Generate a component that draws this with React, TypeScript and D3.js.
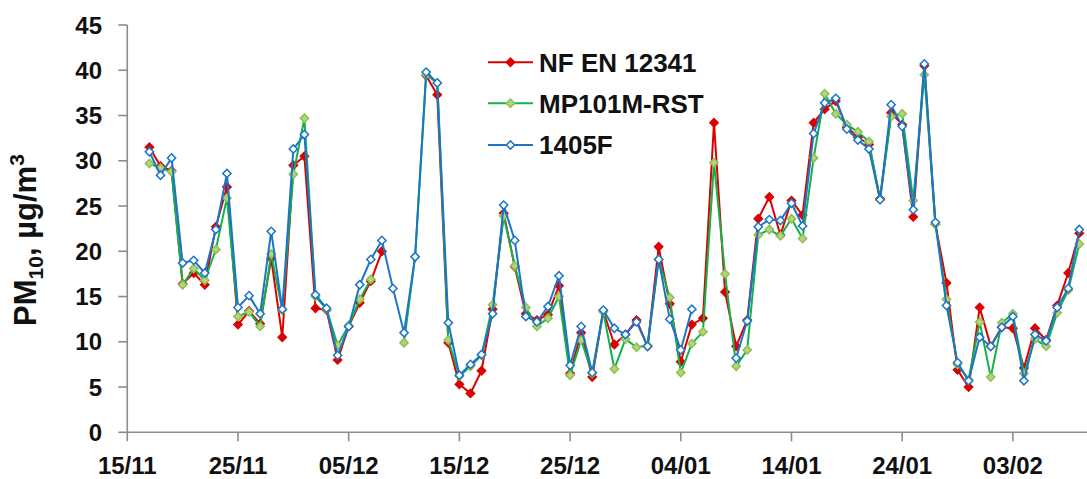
import { useEffect, useRef } from 'react';
import * as d3 from 'd3';

// daily PM10 values, 17/11/2012 .. 09/02/2013 (null = no measurement)
const firstDay = '17/11/2012';
const tickLabels = ['15/11', '25/11', '05/12', '15/12', '25/12', '04/01', '14/01', '24/01', '03/02'];
const yTicks = [0, 5, 10, 15, 20, 25, 30, 35, 40, 45];
const seriesNames = ['NF EN 12341', 'MP101M-RST', '1405F'];

const nfEn12341 = [
  31.5, 29.4, 28.9, 16.4, 17.6, 16.3, 22.7, 27.1, 11.9, 13.4,
  12.0, 19.2, 10.5, 29.5, 30.5, 13.7, 13.5, 8.0, 11.7, 14.3,
  16.7, 20.0, null, null, null, 39.4, 37.3, 9.9, 5.3, 4.3,
  6.8, 13.6, 24.2, 18.3, 13.1, 12.4, 13.0, 16.2, 6.5, 11.0,
  6.1, 13.4, 9.7, 10.8, 12.4, 9.5, 20.5, 14.2, 7.8, 11.9,
  12.6, 34.2, 15.5, 9.5, 12.4, 23.6, 26.0, 21.8, 25.6, 24.0,
  34.2, 35.7, 36.6, 33.7, 32.6, 31.8, 25.8, 35.3, 34.0, 23.8,
  40.5, 23.0, 16.5, 6.9, 5.0, 13.8, 9.5, 11.6, 11.5, 7.1,
  11.5, 10.2, 14.0, 17.6, 22.0,
];
const mp101mRst = [
  29.7, 29.2, 28.8, 16.3, 18.1, 16.8, 20.2, 25.9, 12.8, 13.3,
  11.7, 19.7, 13.5, 28.5, 34.7, 15.0, 13.6, 9.6, 11.8, 14.7,
  16.9, null, null, 9.9, 19.4, 39.5, 38.6, 10.2, 6.2, 7.3,
  8.5, 14.1, 23.9, 18.4, 13.8, 11.7, 12.6, 15.0, 6.3, 10.2,
  6.5, 13.3, 7.0, 10.3, 9.4, 9.6, 19.1, 14.9, 6.6, 9.8,
  11.1, 29.8, 17.5, 7.3, 9.1, 21.8, 22.4, 21.7, 23.6, 21.4,
  30.3, 37.4, 35.2, 34.0, 33.2, 32.1, 25.7, 34.9, 35.2, 25.6,
  39.5, 23.0, 14.7, 7.5, 5.8, 12.2, 6.1, 12.1, 13.1, 6.5,
  10.3, 9.5, 13.2, 15.7, 20.8,
];
const f1405 = [
  31.0, 28.4, 30.3, 18.7, 19.0, 17.6, 22.4, 28.6, 13.8, 15.1,
  13.1, 22.2, 13.6, 31.3, 32.9, 15.2, 13.7, 8.5, 11.7, 16.3,
  19.1, 21.2, 15.9, 11.0, 19.4, 39.8, 38.6, 12.1, 6.3, 7.5,
  8.6, 13.1, 25.1, 21.2, 12.8, 12.2, 13.9, 17.3, 7.4, 11.7,
  6.6, 13.5, 11.5, 10.8, 12.2, 9.5, 19.1, 12.5, 9.1, 13.6,
  null, null, null, 8.2, 12.3, 22.7, 23.5, 23.4, 25.3, 22.8,
  33.0, 36.4, 36.9, 33.5, 32.3, 31.3, 25.7, 36.2, 33.8, 24.6,
  40.7, 23.2, 14.0, 7.7, 5.7, 10.5, 9.5, 11.6, 12.8, 5.7,
  10.8, 10.1, 13.8, 15.9, 22.4,
];

const styles = [
  { line: '#DC0000', fill: '#DC0000', stroke: '#DC0000' },
  { line: '#12B24A', fill: '#B4D57E', stroke: '#8FBF52' },
  { line: '#1B75C8', fill: '#ffffff', stroke: '#1B75C8' },
];

export default function App() {
  const svgRef = useRef(null);

  useEffect(() => {
    const width = 1087;
    const height = 479;
    const svg = d3.select(svgRef.current);
    svg.attr('width', width).attr('height', height).attr('viewBox', `0 0 ${width} ${height}`);
    svg.selectAll('*').remove();

    const font = '"Liberation Sans", Arial, sans-serif';
    const axisColor = '#8c8c8c';
    const parse = d3.utcParse('%d/%m/%Y');
    const start = parse(firstDay);
    const dates = nfEn12341.map((_, i) => d3.utcDay.offset(start, i));
    const tickDates = tickLabels.map((t) => parse(`${t}/${+t.slice(3) >= 11 ? 2012 : 2013}`));

    const x = d3
      .scaleUtc()
      .domain([tickDates[0], dates[dates.length - 1]])
      .range([127.3, 1079.3]);
    const y = d3.scaleLinear().domain([0, 45]).range([432.3, 25]);

    // y axis
    const gy = svg.append('g');
    gy.append('line')
      .attr('x1', x.range()[0]).attr('x2', x.range()[0])
      .attr('y1', y(45)).attr('y2', y(0))
      .attr('stroke', axisColor).attr('stroke-width', 1.6);
    yTicks.forEach((t) => {
      gy.append('line')
        .attr('x1', x.range()[0] - 9).attr('x2', x.range()[0])
        .attr('y1', y(t)).attr('y2', y(t))
        .attr('stroke', axisColor).attr('stroke-width', 1.6);
      gy.append('text')
        .attr('x', 102).attr('y', y(t)).attr('dy', '0.36em')
        .attr('text-anchor', 'end')
        .attr('font-family', font).attr('font-weight', 'bold').attr('font-size', 24)
        .attr('fill', '#111')
        .text(t);
    });

    // x axis
    const gx = svg.append('g');
    gx.append('line')
      .attr('x1', x.range()[0]).attr('x2', width)
      .attr('y1', y(0)).attr('y2', y(0))
      .attr('stroke', axisColor).attr('stroke-width', 1.6);
    tickDates.forEach((d, i) => {
      gx.append('line')
        .attr('x1', x(d)).attr('x2', x(d))
        .attr('y1', y(0)).attr('y2', y(0) + 9)
        .attr('stroke', axisColor).attr('stroke-width', 1.6);
      gx.append('text')
        .attr('x', x(d)).attr('y', 474)
        .attr('text-anchor', 'middle')
        .attr('font-family', font).attr('font-weight', 'bold').attr('font-size', 24)
        .attr('fill', '#111')
        .text(tickLabels[i]);
    });

    // y title
    const title = svg.append('text')
      .attr('transform', 'translate(36,240) rotate(-90)')
      .attr('text-anchor', 'middle')
      .attr('font-family', font).attr('font-weight', 'bold').attr('font-size', 31)
      .attr('fill', '#111');
    title.append('tspan').text('PM');
    title.append('tspan').attr('font-size', 21).attr('dy', 7).text('10');
    title.append('tspan').attr('dy', -7).text(', µg/m');
    title.append('tspan').attr('font-size', 21).attr('dy', -12).text('3');

    const marker = d3.symbol().type(d3.symbolSquare).size(34);
    const all = [nfEn12341, mp101mRst, f1405];

    all.forEach((values, s) => {
      const st = styles[s];
      const line = d3
        .line()
        .defined((v) => v != null)
        .x((_, i) => x(dates[i]))
        .y((v) => y(v));
      const g = svg.append('g');
      g.append('path')
        .datum(values)
        .attr('fill', 'none')
        .attr('stroke', st.line)
        .attr('stroke-width', 2)
        .attr('stroke-linejoin', 'round')
        .attr('d', line);
      g.selectAll('path.m')
        .data(values.map((v, i) => ({ v, d: dates[i] })).filter((p) => p.v != null))
        .join('path')
        .attr('class', 'm')
        .attr('d', marker)
        .attr('transform', (p) => `translate(${x(p.d)},${y(p.v)}) rotate(45)`)
        .attr('fill', st.fill)
        .attr('stroke', st.stroke)
        .attr('stroke-width', 1.5);
    });

    // legend
    const rows = [62.3, 103.3, 145];
    seriesNames.forEach((name, s) => {
      const st = styles[s];
      const g = svg.append('g').attr('transform', `translate(0,${rows[s]})`);
      g.append('line')
        .attr('x1', 488).attr('x2', 533)
        .attr('stroke', st.line).attr('stroke-width', 2);
      g.append('path')
        .attr('d', marker)
        .attr('transform', 'translate(510.5,0) rotate(45)')
        .attr('fill', st.fill).attr('stroke', st.stroke).attr('stroke-width', 1.5);
      g.append('text')
        .attr('x', 539).attr('y', 9.4)
        .attr('font-family', font).attr('font-weight', 'bold').attr('font-size', 26)
        .attr('fill', '#111')
        .text(name);
    });
  }, []);

  return <svg ref={svgRef} style={{ position: 'absolute', left: 0, top: 0 }}></svg>;
}
